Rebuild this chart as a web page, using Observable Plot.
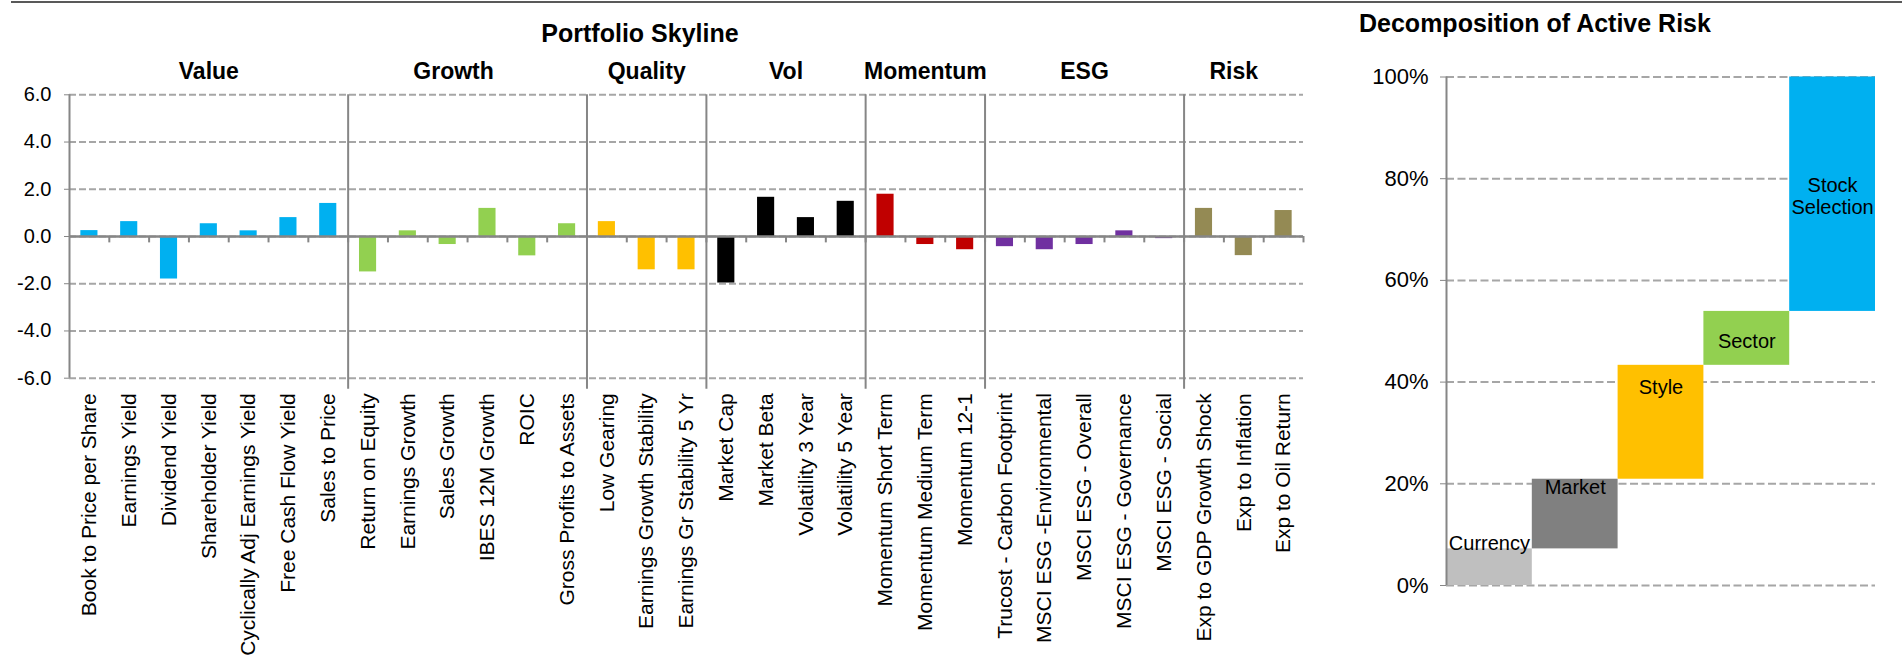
<!DOCTYPE html>
<html><head><meta charset="utf-8">
<script src="https://cdn.jsdelivr.net/npm/d3@7"></script>
<script src="https://cdn.jsdelivr.net/npm/@observablehq/plot@0.6"></script>
<style>
body{margin:0;background:#fff;font-family:"Liberation Sans",Arial,sans-serif;}
#wrap{position:relative;width:1902px;height:670px;overflow:hidden;background:#fff;}
.abs{position:absolute;}
.title{position:absolute;font-weight:bold;font-size:25px;line-height:1;white-space:nowrap;color:#000;}
g[aria-label="y-axis tick"]{stroke:#868686;}
</style></head><body>
<div id="wrap">
  <div class="abs" style="left:11px;top:1px;width:1891px;height:2px;background:#595959"></div>
  <div class="title" style="left:340px;width:600px;text-align:center;top:21px">Portfolio Skyline</div>
  <div class="title" style="left:1359px;top:11px">Decomposition of Active Risk</div>
  <div id="left" class="abs" style="left:0;top:0"></div>
  <div id="right" class="abs" style="left:1310px;top:0"></div>
</div>
<script>
// ---------- Portfolio Skyline data ----------
const groups = ["Value","Growth","Quality","Vol","Momentum","ESG","Risk"];
const groupColors = ["#00B0F0","#92D050","#FFC000","#000000","#C00000","#7030A0","#948A54"];
const factors = [
  "Book to Price per Share","Earnings Yield","Dividend Yield","Shareholder Yield","Cyclically Adj Earnings Yield","Free Cash Flow Yield","Sales to Price",
  "Return on Equity","Earnings Growth","Sales Growth","IBES 12M Growth","ROIC","Gross Profits to Assets",
  "Low Gearing","Earnings Growth Stability","Earnings Gr Stability 5 Yr",
  "Market Cap","Market Beta","Volatility 3 Year","Volatility 5 Year",
  "Momentum Short Term","Momentum Medium Term","Momentum 12-1",
  "Trucost - Carbon Footprint","MSCI ESG -Environmental","MSCI ESG - Overall","MSCI ESG - Governance","MSCI ESG - Social",
  "Exp to GDP Growth Shock","Exp to Inflation","Exp to Oil Return"
];
const factorGroup = [
  "Value","Value","Value","Value","Value","Value","Value",
  "Growth","Growth","Growth","Growth","Growth","Growth",
  "Quality","Quality","Quality",
  "Vol","Vol","Vol","Vol",
  "Momentum","Momentum","Momentum",
  "ESG","ESG","ESG","ESG","ESG",
  "Risk","Risk","Risk"
];
const exposures = [
  0.25, 0.63, -1.8, 0.54, 0.24, 0.8, 1.4,
  -1.5, 0.24, -0.34, 1.19, -0.82, 0.54,
  0.63, -1.41, -1.41,
  -1.97, 1.66, 0.8, 1.49,
  1.79, -0.34, -0.56,
  -0.43, -0.56, -0.34, 0.24, -0.09,
  1.19, -0.81, 1.1
];
const yTicks = [-6,-4,-2,0,2,4,6];

// ---------- Decomposition of Active Risk data ----------
const riskComponents = ["Currency","Market","Style","Sector","Stock Selection"];
const riskShares = [7.2, 13.7, 22.4, 10.6, 46.1];
const riskColors = ["#BFBFBF","#808080","#FFC000","#92D050","#00B0F0"];
const pctTicks = [0,20,40,60,80,100];

// ---------- Left chart ----------
const W1 = 1310, H = 670;
const mL = 69, mR = 7, mT = 94.3, mB = H - 377.7;
const step = (W1 - mL - mR) / factors.length;
const rows = factors.map((f,i) => ({factor: f, group: factorGroup[i], value: exposures[i]}));
const gridStroke = "#A6A6A6", axisStroke = "#868686";
const groupLabelShift = {Growth: -14, Risk: -10};

const groupMarks = groups.map(g => {
  const members = factors.filter((f,i) => factorGroup[i] === g);
  return Plot.text([g], {x: () => members[0], y: 6, text: d => d,
    dx: (members.length - 1) * step / 2 + (groupLabelShift[g] || 0),
    dy: -15.5, lineAnchor: "bottom", fontWeight: "bold", fontSize: 23, fill: "#000"});
});
const lastOfGroup = groups.slice(0, -1).map(g => factors.filter((f,i) => factorGroup[i] === g).slice(-1)[0]);

const left = Plot.plot({
  width: W1, height: H,
  marginLeft: mL, marginRight: mR, marginTop: mT, marginBottom: mB,
  style: {fontFamily: "Liberation Sans, Arial, sans-serif", fontSize: "20px", color: "#000", background: "transparent", overflow: "visible"},
  x: {type: "band", domain: factors, round: false, paddingInner: 0.57, paddingOuter: 0.285, tickSize: 0, tickRotate: -90, tickPadding: 15, label: null},
  y: {domain: [-6, 6], ticks: yTicks, tickSize: 5, tickPadding: 13, tickFormat: d => d.toFixed(1), label: null},
  color: {domain: groups, range: groupColors},
  marks: [
    Plot.ruleY(yTicks, {stroke: gridStroke, strokeWidth: 2, strokeDasharray: "7,3"}),
    Plot.barY(rows, {x: "factor", y: "value", fill: "group"}),
    Plot.ruleY([0], {stroke: axisStroke, strokeWidth: 2.5}),
    Plot.ruleX(factors, {x: d => d, y1: 0, y2: -0.27, dx: step / 2, stroke: axisStroke, strokeWidth: 2}),
    Plot.ruleX([factors[0]], {x: d => d, y1: -6, y2: 6, dx: -step / 2, stroke: axisStroke, strokeWidth: 2}),
    Plot.ruleX(lastOfGroup, {x: d => d, y1: -6.47, y2: 6, dx: step / 2, stroke: axisStroke, strokeWidth: 2}),
    ...groupMarks
  ]
});
left.querySelectorAll('g[aria-label="x-axis tick label"] text').forEach(t => t.style.fontSize = "21px");
document.getElementById("left").appendChild(left);

// ---------- Right chart ----------
const W2 = 1902 - 1310;
let acc = 0;
const wf = riskComponents.map((c,i) => { const s = acc; acc += riskShares[i]; return {name: c, start: s, end: acc}; });
const bw = (W2 - 136 - 27) / riskComponents.length;
const labelDy = {"Currency": -6.3, "Market": 7.7, "Style": 22, "Sector": 30, "Stock Selection": 118.5};
const right = Plot.plot({
  width: W2, height: H,
  marginLeft: 136, marginRight: 27, marginTop: 76.5, marginBottom: H - 585,
  style: {fontFamily: "Liberation Sans, Arial, sans-serif", fontSize: "22px", color: "#000", background: "transparent", overflow: "visible"},
  x: {type: "band", domain: riskComponents, padding: 0, round: false, axis: null},
  y: {domain: [0, 100], ticks: pctTicks, tickSize: 6, tickPadding: 12, tickFormat: d => d + "%", label: null},
  color: {domain: riskComponents, range: riskColors},
  marks: [
    Plot.ruleY(pctTicks, {stroke: gridStroke, strokeWidth: 2, strokeDasharray: "8,3.5"}),
    Plot.barY(wf, {x: "name", y1: "start", y2: "end", fill: "name"}),
    Plot.ruleX([riskComponents[0]], {x: d => d, y1: 0, y2: 100, dx: -bw / 2, stroke: axisStroke, strokeWidth: 2}),
    ...wf.map(d => Plot.text([d], {x: "name", y: "end", text: r => r.name === "Stock Selection" ? "Stock\nSelection" : r.name,
      dy: labelDy[d.name], lineAnchor: "middle", lineHeight: 1.1, fontSize: 20, fill: "#000"}))
  ]
});
document.getElementById("right").appendChild(right);
</script>
</body></html>
